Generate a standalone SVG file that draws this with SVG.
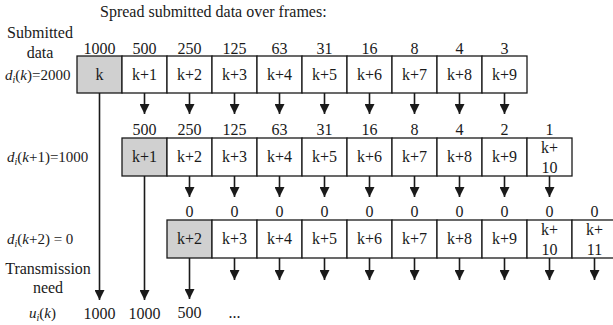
<svg xmlns="http://www.w3.org/2000/svg" width="613" height="325" viewBox="0 0 613 325">
<defs>
<style>
.t{font-family:'Liberation Serif','Tinos','Times New Roman','DejaVu Serif',serif;font-size:16px;fill:#1a1a1a}
.c{text-anchor:middle}
.box{fill:#fff;stroke:#1a1a1a;stroke-width:1.3}
.sel{fill:#d0d0d0}
.ar{stroke:#1a1a1a;stroke-width:1.6;fill:none;marker-end:url(#ah)}
.it{font-style:italic}
.eq{font-size:15px}
.sub{font-size:10px;font-style:italic}
</style>
<marker id="ah" viewBox="0 0 10 10" refX="10" refY="5" markerWidth="10" markerHeight="10" markerUnits="userSpaceOnUse" orient="auto"><path d="M0,0 L10,5 L0,10 z" fill="#1a1a1a"/></marker>
</defs>
<rect width="613" height="325" fill="#fff"/>

<g class="t" font-family="'Liberation Serif', 'Times New Roman', serif">
<g id="labels">
<text x="100" y="17">Spread submitted data over frames:</text>
<text class="c" x="40" y="38">Submitted</text>
<text class="c" x="40" y="58">data</text>
<text class="eq" x="5" y="80"><tspan class="it">d</tspan><tspan class="sub" dy="3">i</tspan><tspan dy="-3">(</tspan><tspan class="it">k</tspan><tspan>)=2000</tspan></text>
<text class="eq" x="7" y="162"><tspan class="it">d</tspan><tspan class="sub" dy="3">i</tspan><tspan dy="-3">(</tspan><tspan class="it">k</tspan><tspan>+1)=1000</tspan></text>
<text class="eq" x="7" y="244"><tspan class="it">d</tspan><tspan class="sub" dy="3">i</tspan><tspan dy="-3">(</tspan><tspan class="it">k</tspan><tspan>+2) = 0</tspan></text>
<text class="c" x="48" y="274">Transmission</text>
<text class="c" x="48" y="293">need</text>
<text class="eq" x="29" y="318"><tspan class="it">u</tspan><tspan class="sub" dy="3">i</tspan><tspan dy="-3">(</tspan><tspan class="it">k</tspan><tspan>)</tspan></text>
<text class="c" x="99.5" y="319">1000</text>
<text class="c" x="144.5" y="319">1000</text>
<text class="c" x="189.5" y="318">500</text>
<text class="c" x="234.5" y="318">...</text>
</g>

<g id="row1">
<g id="r1-k"><rect class="box sel" x="77" y="56" width="45" height="37"/><text class="c" x="99.5" y="54">1000</text><text class="c" x="99.5" y="80">k</text></g>
<g id="r1-k1"><rect class="box" x="122" y="56" width="45" height="37"/><text class="c" x="144.5" y="54">500</text><text class="c" x="144.5" y="80">k+1</text></g>
<g id="r1-k2"><rect class="box" x="167" y="56" width="45" height="37"/><text class="c" x="189.5" y="54">250</text><text class="c" x="189.5" y="80">k+2</text></g>
<g id="r1-k3"><rect class="box" x="212" y="56" width="45" height="37"/><text class="c" x="234.5" y="54">125</text><text class="c" x="234.5" y="80">k+3</text></g>
<g id="r1-k4"><rect class="box" x="257" y="56" width="45" height="37"/><text class="c" x="279.5" y="54">63</text><text class="c" x="279.5" y="80">k+4</text></g>
<g id="r1-k5"><rect class="box" x="302" y="56" width="45" height="37"/><text class="c" x="324.5" y="54">31</text><text class="c" x="324.5" y="80">k+5</text></g>
<g id="r1-k6"><rect class="box" x="347" y="56" width="45" height="37"/><text class="c" x="369.5" y="54">16</text><text class="c" x="369.5" y="80">k+6</text></g>
<g id="r1-k7"><rect class="box" x="392" y="56" width="45" height="37"/><text class="c" x="414.5" y="54">8</text><text class="c" x="414.5" y="80">k+7</text></g>
<g id="r1-k8"><rect class="box" x="437" y="56" width="45" height="37"/><text class="c" x="459.5" y="54">4</text><text class="c" x="459.5" y="80">k+8</text></g>
<g id="r1-k9"><rect class="box" x="482" y="56" width="45" height="37"/><text class="c" x="504.5" y="54">3</text><text class="c" x="504.5" y="80">k+9</text></g>
</g>

<g id="row2">
<g id="r2-k1"><rect class="box sel" x="122" y="138" width="45" height="38"/><text class="c" x="144.5" y="135">500</text><text class="c" x="144.5" y="162">k+1</text></g>
<g id="r2-k2"><rect class="box" x="167" y="138" width="45" height="38"/><text class="c" x="189.5" y="135">250</text><text class="c" x="189.5" y="162">k+2</text></g>
<g id="r2-k3"><rect class="box" x="212" y="138" width="45" height="38"/><text class="c" x="234.5" y="135">125</text><text class="c" x="234.5" y="162">k+3</text></g>
<g id="r2-k4"><rect class="box" x="257" y="138" width="45" height="38"/><text class="c" x="279.5" y="135">63</text><text class="c" x="279.5" y="162">k+4</text></g>
<g id="r2-k5"><rect class="box" x="302" y="138" width="45" height="38"/><text class="c" x="324.5" y="135">31</text><text class="c" x="324.5" y="162">k+5</text></g>
<g id="r2-k6"><rect class="box" x="347" y="138" width="45" height="38"/><text class="c" x="369.5" y="135">16</text><text class="c" x="369.5" y="162">k+6</text></g>
<g id="r2-k7"><rect class="box" x="392" y="138" width="45" height="38"/><text class="c" x="414.5" y="135">8</text><text class="c" x="414.5" y="162">k+7</text></g>
<g id="r2-k8"><rect class="box" x="437" y="138" width="45" height="38"/><text class="c" x="459.5" y="135">4</text><text class="c" x="459.5" y="162">k+8</text></g>
<g id="r2-k9"><rect class="box" x="482" y="138" width="45" height="38"/><text class="c" x="504.5" y="135">2</text><text class="c" x="504.5" y="162">k+9</text></g>
<g id="r2-k10"><rect class="box" x="527" y="138" width="45" height="38"/><text class="c" x="549.5" y="135">1</text><text class="c" x="549.5" y="153">k+</text><text class="c" x="549.5" y="173">10</text></g>
</g>

<g id="row3">
<g id="r3-k2"><rect class="box sel" x="167" y="220" width="45" height="38"/><text class="c" x="189.5" y="217">0</text><text class="c" x="189.5" y="244">k+2</text></g>
<g id="r3-k3"><rect class="box" x="212" y="220" width="45" height="38"/><text class="c" x="234.5" y="217">0</text><text class="c" x="234.5" y="244">k+3</text></g>
<g id="r3-k4"><rect class="box" x="257" y="220" width="45" height="38"/><text class="c" x="279.5" y="217">0</text><text class="c" x="279.5" y="244">k+4</text></g>
<g id="r3-k5"><rect class="box" x="302" y="220" width="45" height="38"/><text class="c" x="324.5" y="217">0</text><text class="c" x="324.5" y="244">k+5</text></g>
<g id="r3-k6"><rect class="box" x="347" y="220" width="45" height="38"/><text class="c" x="369.5" y="217">0</text><text class="c" x="369.5" y="244">k+6</text></g>
<g id="r3-k7"><rect class="box" x="392" y="220" width="45" height="38"/><text class="c" x="414.5" y="217">0</text><text class="c" x="414.5" y="244">k+7</text></g>
<g id="r3-k8"><rect class="box" x="437" y="220" width="45" height="38"/><text class="c" x="459.5" y="217">0</text><text class="c" x="459.5" y="244">k+8</text></g>
<g id="r3-k9"><rect class="box" x="482" y="220" width="45" height="38"/><text class="c" x="504.5" y="217">0</text><text class="c" x="504.5" y="244">k+9</text></g>
<g id="r3-k10"><rect class="box" x="527" y="220" width="45" height="38"/><text class="c" x="549.5" y="217">0</text><text class="c" x="549.5" y="235">k+</text><text class="c" x="549.5" y="255">10</text></g>
<g id="r3-k11"><rect class="box" x="572" y="220" width="45" height="38"/><text class="c" x="594.5" y="217">0</text><text class="c" x="594.5" y="235">k+</text><text class="c" x="594.5" y="255">11</text></g>
</g>
</g>

<g id="connectors">
<line class="ar" x1="99.5" y1="93" x2="99.5" y2="300"/>
<line class="ar" x1="144.5" y1="93" x2="144.5" y2="114"/>
<line class="ar" x1="189.5" y1="93" x2="189.5" y2="114"/>
<line class="ar" x1="234.5" y1="93" x2="234.5" y2="114"/>
<line class="ar" x1="279.5" y1="93" x2="279.5" y2="114"/>
<line class="ar" x1="324.5" y1="93" x2="324.5" y2="114"/>
<line class="ar" x1="369.5" y1="93" x2="369.5" y2="114"/>
<line class="ar" x1="414.5" y1="93" x2="414.5" y2="114"/>
<line class="ar" x1="459.5" y1="93" x2="459.5" y2="114"/>
<line class="ar" x1="504.5" y1="93" x2="504.5" y2="114"/>
<line class="ar" x1="144.5" y1="176" x2="144.5" y2="300"/>
<line class="ar" x1="189.5" y1="176" x2="189.5" y2="197"/>
<line class="ar" x1="234.5" y1="176" x2="234.5" y2="197"/>
<line class="ar" x1="279.5" y1="176" x2="279.5" y2="197"/>
<line class="ar" x1="324.5" y1="176" x2="324.5" y2="197"/>
<line class="ar" x1="369.5" y1="176" x2="369.5" y2="197"/>
<line class="ar" x1="414.5" y1="176" x2="414.5" y2="197"/>
<line class="ar" x1="459.5" y1="176" x2="459.5" y2="197"/>
<line class="ar" x1="504.5" y1="176" x2="504.5" y2="197"/>
<line class="ar" x1="549.5" y1="176" x2="549.5" y2="197"/>
<line class="ar" x1="189.5" y1="258" x2="189.5" y2="299"/>
<line class="ar" x1="234.5" y1="258" x2="234.5" y2="280"/>
<line class="ar" x1="279.5" y1="258" x2="279.5" y2="280"/>
<line class="ar" x1="324.5" y1="258" x2="324.5" y2="280"/>
<line class="ar" x1="369.5" y1="258" x2="369.5" y2="280"/>
<line class="ar" x1="414.5" y1="258" x2="414.5" y2="280"/>
<line class="ar" x1="459.5" y1="258" x2="459.5" y2="280"/>
<line class="ar" x1="504.5" y1="258" x2="504.5" y2="280"/>
<line class="ar" x1="549.5" y1="258" x2="549.5" y2="280"/>
<line class="ar" x1="594.5" y1="258" x2="594.5" y2="280"/>
</g>
</svg>
